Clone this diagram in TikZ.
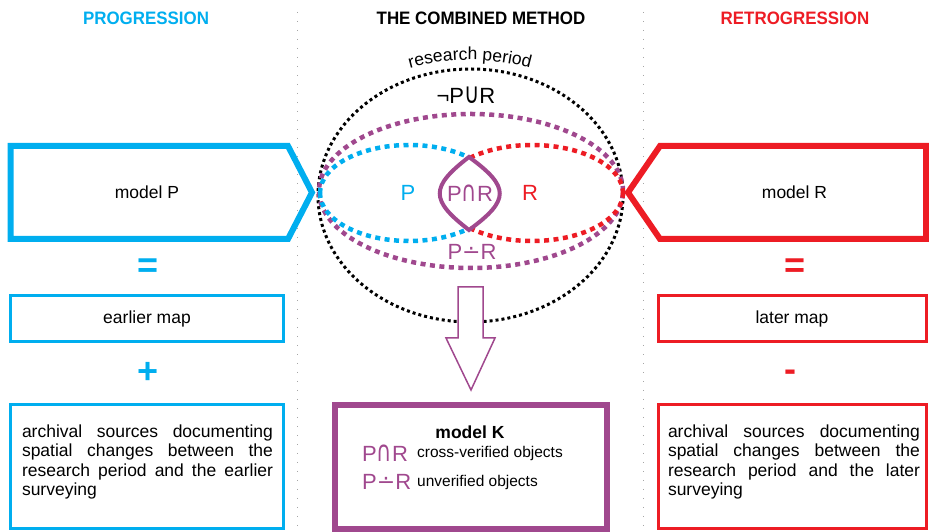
\documentclass[tikz,border=0pt]{standalone}
\usepackage{fontspec}
\setmainfont{Liberation Sans}
\newfontfamily\symfont{DejaVu Sans}
\newfontfamily\headfont[FakeStretch=0.94]{Liberation Sans}
\usetikzlibrary{decorations.text}
\definecolor{progcyan}{RGB}{0,174,239}
\definecolor{retrored}{RGB}{237,28,36}
\definecolor{combpurple}{RGB}{160,72,142}
\newcommand\isect{\scalebox{0.95}[1.3]{\symfont ∩}}
\newcommand\unify{\scalebox{0.95}[1.3]{\symfont ∪}}
\newcommand\dotmin{{\symfont ∸}}

\begin{document}
\begin{tikzpicture}[x=1pt, y=1pt,
		head/.style={inner sep=0pt, font={\headfont\bfseries\fontsize{18}{18}\selectfont}},
		bodytxt/.style={inner sep=0pt, font={\fontsize{17.5}{19.5}\selectfont}},
		smalltxt/.style={inner sep=0pt, font={\fontsize{15.5}{17}\selectfont}},
		symtxt/.style={inner sep=0pt, font={\fontsize{22}{22}\selectfont}},
		opsign/.style={inner sep=0pt, font={\bfseries\fontsize{36}{36}\selectfont}},
		sepline/.style={draw=black!35, line width=1pt, dash pattern=on 1pt off 8pt},
		bigframe/.style={line width=6pt, line join=miter},
		mapbox/.style={draw, line width=3pt, minimum width=273pt, minimum height=46pt, bodytxt},
		srcbox/.style={draw, line width=3pt, minimum width=273pt, minimum height=124.5pt},
		srctxt/.style={bodytxt, text width=251pt, align=justify,
			execute at begin node={\hyphenpenalty=10000\tolerance=10000\spaceskip=.278em plus 1.5em minus .05em}},
		rimdots/.style={line width=3pt, dash pattern=on 3pt off 3pt},
		setdash/.style={line width=4.5pt, dash pattern=on 5pt off 4.5pt},
		lensline/.style={draw=combpurple, line width=4pt},
		hollowarrow/.style={draw=combpurple, line width=1.5pt, fill=white, line join=miter},
		kbox/.style={draw=combpurple, line width=6pt, minimum width=272pt, minimum height=124pt}]
	\useasboundingbox (0,0) rectangle (929,532);
	% Paths, nodes and frames:
	\node[head, text=progcyan] (progHead) at (146,514) {PROGRESSION};
	\node[head] (combHead) at (481,514) {THE COMBINED METHOD};
	\node[head, text=retrored] (retroHead) at (795,514) {RETROGRESSION};
	\draw[sepline] (297,520) -- (297,0);
	\draw[sepline] (643,520) -- (643,0);

	% progression
	\draw[bigframe, draw=progcyan] (10.5,386) -- (288,386) -- (312,339.5) -- (288,293) -- (10.5,293) -- cycle;
	\node[bodytxt] (modelP) at (147,339.5) {model P};
	\node[opsign, text=progcyan] (eqP) at (148,264) {=};
	\node[mapbox, draw=progcyan] (mapP) at (147,213.5) {earlier map};
	\node[opsign, text=progcyan] (plusP) at (148,159) {+};
	\node[srcbox, draw=progcyan] (srcP) at (147,65.25) {};
	\node[srctxt] (srcPtxt) at (147.5,70) {archival sources documenting spatial changes between the research period and the earlier surveying};

	% retrogression
	\draw[bigframe, draw=retrored] (926,386) -- (660,386) -- (628,339.5) -- (660,293) -- (926,293) -- cycle;
	\node[bodytxt] (modelR) at (794.5,339.5) {model R};
	\node[opsign, text=retrored] (eqR) at (795,264) {=};
	\node[mapbox, draw=retrored, minimum width=268pt] (mapR) at (792,213.5) {later map};
	\node[opsign, text=retrored] (minusR) at (790,156) {-};
	\node[srcbox, draw=retrored, minimum width=268pt] (srcR) at (792,65.25) {};
	\node[srctxt, text width=252pt] (srcRtxt) at (794,70) {archival sources documenting spatial changes between the research period and the later surveying};

	% combined method
	\draw[rimdots] (470.5,336.5) ellipse [x radius=152.5, y radius=126.5];
	\path[decorate, decoration={text along path, text align=center,
		text={|\fontsize{17.5}{17.5}\selectfont|research period}}]
		(470,247) ++(117:225) arc [start angle=117, end angle=63, radius=225];
	\node[symtxt] (notPorR) at (466,437) {¬P\unify R};
	\draw[setdash, draw=combpurple] (471,341) ellipse [x radius=152, y radius=77];
	\draw[setdash, draw=progcyan] (409,339) ++(180:89 and 48) arc [start angle=180, end angle=48.5, x radius=89, y radius=48];
	\draw[setdash, draw=progcyan] (409,339) ++(180:89 and 48) arc [start angle=180, end angle=311.5, x radius=89, y radius=48];
	\draw[setdash, draw=retrored] (532,339) ++(133:91 and 48) arc [start angle=133, end angle=0, x radius=91, y radius=48];
	\draw[setdash, draw=retrored] (532,339) ++(227:91 and 48) arc [start angle=227, end angle=360, x radius=91, y radius=48];
	\draw[lensline] (469,375) .. controls (430,345) and (430,332) .. (469,302) .. controls (510,332) and (510,345) .. (469,375) -- cycle;
	\node[symtxt, text=progcyan] (pLabel) at (408,339) {P};
	\node[symtxt, text=combpurple] (lensLabel) at (470,339) {P\isect R};
	\node[symtxt, text=retrored] (rLabel) at (530,339) {R};
	\node[symtxt, text=combpurple] (diffLabel) at (472,280) {P\dotmin R};
	\draw[hollowarrow] (458,245) -- (483,245) -- (483,194) -- (495,194) -- (471,142) -- (446,194) -- (458,194) -- cycle;

	\node[kbox] (modelK) at (471,65) {};
	\node[bodytxt, font={\bfseries\fontsize{17.5}{19.5}\selectfont}] (kTitle) at (470,100) {model K};
	\node[symtxt, text=combpurple, anchor=west] (kIsect) at (362,79) {P\isect R};
	\node[smalltxt, anchor=west] (kCross) at (417,79) {cross-verified objects};
	\node[symtxt, text=combpurple, anchor=west] (kDiff) at (362,50) {P\dotmin R};
	\node[smalltxt, anchor=west] (kUnver) at (417,50) {unverified objects};
\end{tikzpicture}
\end{document}
